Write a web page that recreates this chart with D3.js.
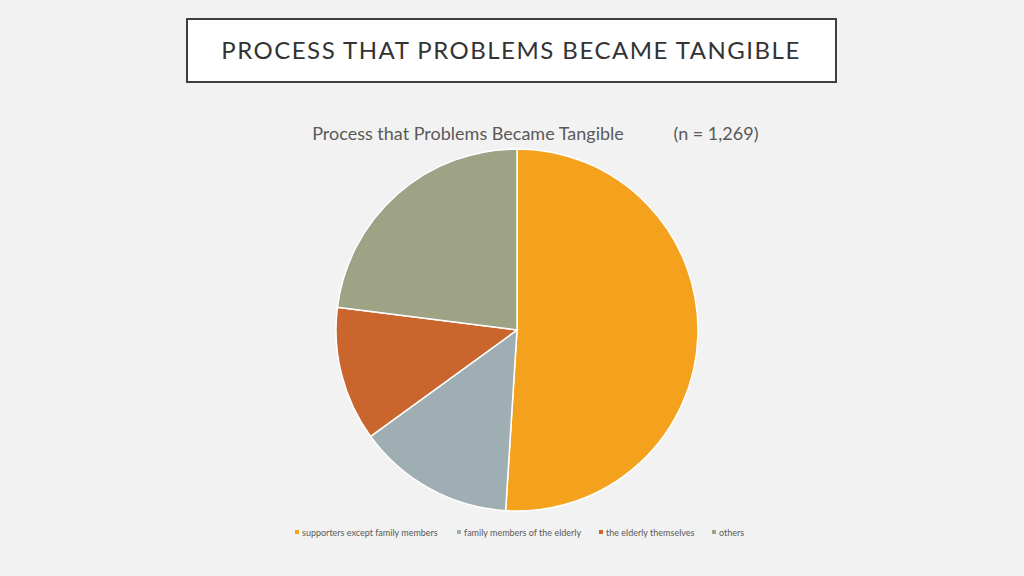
<!DOCTYPE html><html><head><meta charset="utf-8">
<script src="https://cdn.jsdelivr.net/npm/d3@7"></script>
<style>body{margin:0;background:#f2f2f2;font-family:Lato,"Open Sans",sans-serif}</style></head><body>
<svg id="c" width="1024" height="576"></svg>
<script>
const categories=["supporters except family members","family members of the elderly","the elderly themselves","others"];
const values=[51,14,12,23];
const colors=["#f4a21e","#9eaeb3","#c9652d","#9ea385"];
const svg=d3.select("#c");
svg.append("rect").attr("x",187).attr("y",19).attr("width",649).attr("height",63).attr("fill","#fff").attr("stroke","#404040").attr("stroke-width",2);
svg.append("text").attr("x",511).attr("y",59).attr("text-anchor","middle").attr("font-size",24).attr("letter-spacing",1.5).attr("fill","#333").text("PROCESS THAT PROBLEMS BECAME TANGIBLE");
svg.append("text").attr("x",468).attr("y",140).attr("text-anchor","middle").attr("font-size",18).attr("fill","#595959").text("Process that Problems Became Tangible");
svg.append("text").attr("x",716).attr("y",140).attr("text-anchor","middle").attr("font-size",18).attr("fill","#595959").text("(n = 1,269)");
const pie=d3.pie().sort(null)(values);
const arc=d3.arc().innerRadius(0).outerRadius(181);
svg.append("g").attr("transform","translate(517,330)").selectAll("path").data(pie).join("path")
 .attr("d",arc).attr("fill",(d,i)=>colors[i]).attr("stroke","#fff").attr("stroke-width",1.5);
const lx=[295,457,599,712];
const lg=svg.append("g").selectAll("g").data(categories).join("g").attr("transform",(d,i)=>`translate(${lx[i]},533)`);
lg.append("rect").attr("x",0).attr("y",-3).attr("width",4).attr("height",4).attr("fill",(d,i)=>colors[i]);
lg.append("text").attr("x",7).attr("y",2.5).attr("font-size",9).attr("fill","#595959").text(d=>d);
</script></body></html>
